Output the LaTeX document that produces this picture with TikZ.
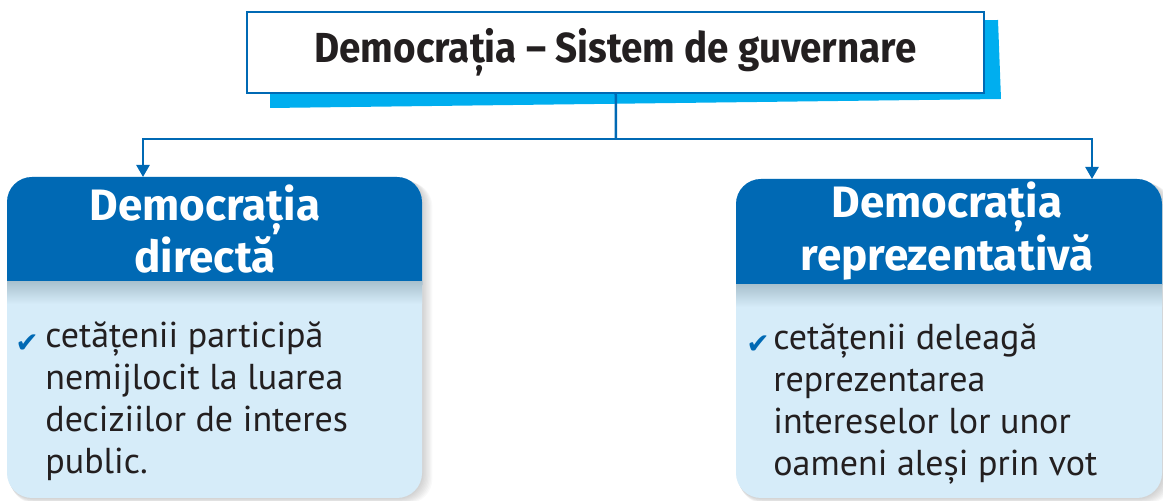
\documentclass[tikz,border=0pt]{standalone}
\usepackage{fontspec}
\setmainfont{PT Sans}
\newfontfamily\headfont{Fira Sans}
\newfontfamily\titlefont[FakeStretch=0.92]{Fira Sans}
\newfontfamily\symfont{DejaVu Sans}
\usetikzlibrary{arrows.meta}
\definecolor{deepblue}{RGB}{0,105,180}
\definecolor{skyblue}{RGB}{0,174,239}
\definecolor{paleblue}{RGB}{214,236,249}
\definecolor{haze}{RGB}{170,194,207}
\definecolor{inkgray}{RGB}{35,31,32}
\tikzset{
  link/.style={deepblue, line width=1.25pt},
  tip/.style={-{Triangle[length=6pt,width=6.5pt]}},
  headtext/.style={white, align=center, inner sep=0pt, font=\headfont\bfseries\fontsize{22}{22.5}\selectfont},
  bodytext/.style={inkgray, align=left, anchor=north west, inner sep=0pt, font=\fontsize{18}{21}\selectfont},
  tick/.style={deepblue, inner sep=0pt, font=\symfont\fontsize{14}{14}\selectfont}
}
\begin{document}
\begin{tikzpicture}[x=0.5pt,y=-0.5pt]
\useasboundingbox (0,0) rectangle (1163,501);
% title box and its shadow
\fill[skyblue] (270,30) -- (998,20) -- (1001,99) -- (270,108) -- cycle;
\node[draw=deepblue, line width=1.25pt, fill=white, minimum width=368.5pt, minimum height=40.5pt, inner sep=0pt, text=inkgray, font=\titlefont\bfseries\fontsize{21}{21}\selectfont] (title) at (615.5,52.5) {Democrația – Sistem de guvernare};
% soft shadows of the cards
\foreach \i in {1,...,8}
{
  \fill[black, opacity=0.025, rounded corners=12.5pt] (7+\i*0.4,177+\i*0.6) rectangle (422+\i*1.3,498+\i*0.7);
  \fill[black, opacity=0.025, rounded corners=12.5pt] (736+\i*0.4,179+\i*0.6) rectangle (1162+\i*1.3,498+\i*0.7);
}
% left card
\fill[paleblue, rounded corners=12.5pt] (7,177) rectangle (422,498);
\fill[deepblue, rounded corners=12.5pt] (7,177) rectangle (422,310);
\fill[paleblue] (7,282) rectangle (422,310);
\shade[top color=haze, bottom color=paleblue] (7,282) rectangle (422,304);
% right card
\fill[paleblue, rounded corners=12.5pt] (736,179) rectangle (1162,498);
\fill[deepblue, rounded corners=12.5pt] (736,179) rectangle (1162,310);
\fill[paleblue] (736,285) rectangle (1162,310);
\shade[top color=haze, bottom color=paleblue] (736,285) rectangle (1162,307);
% texts
\node[headtext] (ldem) at (205,229) {Democrația\\directă};
\node[headtext] (rdem) at (947,231) {Democrația\\reprezentativă};
\node[tick] (lchk) at (27,344) {✔};
\node[tick] (rchk) at (758,345) {✔};
\node[bodytext] (ltxt) at (45,321) {cetățenii participă\\nemijlocit la luarea\\deciziilor de interes\\public.};
\node[bodytext] (rtxt) at (773,323) {cetățenii deleagă\\reprezentarea\\intereselor lor unor\\oameni aleși prin vot};
% connectors
\coordinate (fork) at (616,139);
\coordinate (ltop) at (143,177);
\coordinate (rtop) at (1092,179);
\draw[link] (title) -- (fork);
\draw[link, tip] (fork) -| (ltop);
\draw[link, tip] (fork) -| (rtop);
\end{tikzpicture}
\end{document}
